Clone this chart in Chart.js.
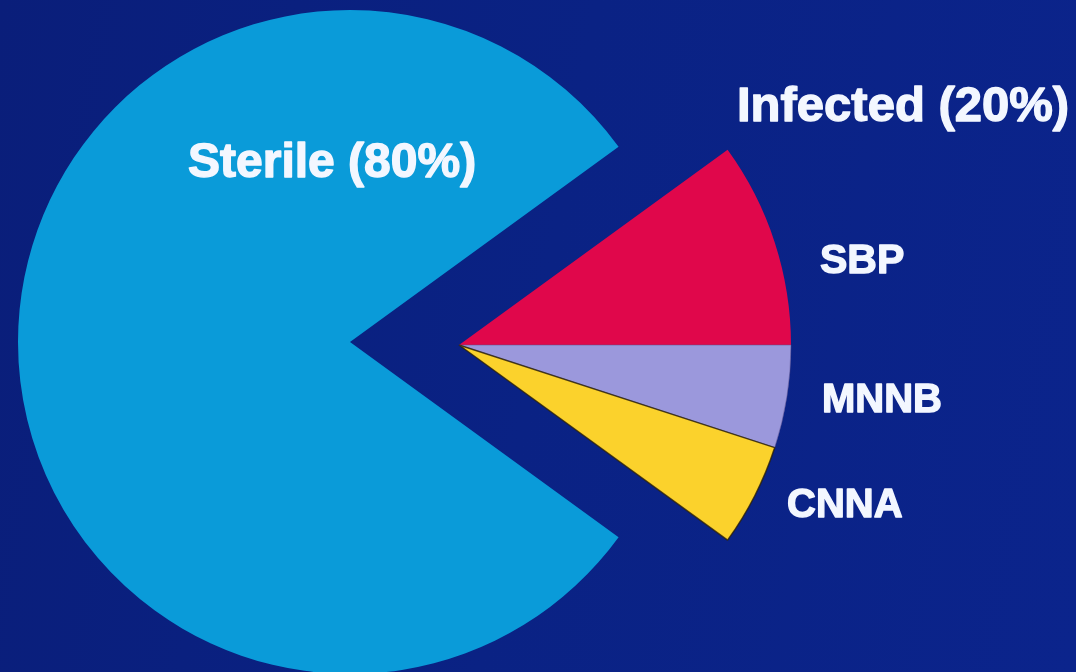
<!DOCTYPE html>
<html>
<head>
<meta charset="utf-8">
<title>Sterile vs infected</title>
<script src="https://cdn.jsdelivr.net/npm/chart.js@4/dist/chart.umd.min.js"></script>
<style>
  html, body { margin: 0; padding: 0; }
  body { width: 1076px; height: 672px; overflow: hidden; }
  #wrap {
    position: relative; width: 1076px; height: 672px;
    background: linear-gradient(100deg, #0a1e7a 0%, #0a2284 50%, #0b248c 100%);
  }
  canvas { display: block; }
</style>
</head>
<body>
<div id="wrap"><canvas id="pie"></canvas></div>
<script>
// Slices, in drawing order (clockwise from the top edge of the infected wedge)
const categories = ['SBP', 'MNNB', 'CNNA', 'Sterile'];
const shares     = [10, 5, 5, 80];
const groups     = ['Infected', 'Infected', 'Infected', 'Sterile'];
const sliceColors = ['#e0074b', '#9b98dc', '#fbd22c', '#0a9bd9'];

const infectedTotal = shares.reduce((s, v, i) => s + (groups[i] === 'Infected' ? v : 0), 0);
const sterileTotal  = shares.reduce((s, v, i) => s + (groups[i] === 'Sterile' ? v : 0), 0);

// Centre the infected wedge on the horizontal axis, pointing right
const rotationDeg = 90 - (infectedTotal / 100) * 360 / 2;

// Pull the infected wedge out to the right
const explode = { dx: 109, dy: 3 };

const textPlacement = {
  Sterile:  { x: 188, y: 177, size: 48 },
  Infected: { x: 737, y: 121, size: 49 },
  SBP:      { x: 820, y: 273, size: 41 },
  MNNB:     { x: 822, y: 412, size: 40 },
  CNNA:     { x: 787, y: 517, size: 40 }
};

const explodePlugin = {
  id: 'explodeInfected',
  afterDatasetsUpdate(chart) {
    const meta = chart.getDatasetMeta(0);
    meta.data.forEach((arc, i) => {
      if (groups[i] === 'Infected') {
        arc.x += explode.dx;
        arc.y += explode.dy;
      }
    });
  }
};

const labelPlugin = {
  id: 'sliceLabels',
  afterDraw(chart) {
    const ctx = chart.ctx;
    const texts = [
      ['Sterile', 'Sterile (' + sterileTotal + '%)'],
      ['Infected', 'Infected (' + infectedTotal + '%)'],
      ...categories.filter((c, i) => groups[i] === 'Infected').map(c => [c, c])
    ];
    ctx.save();
    ctx.fillStyle = '#f3f7ff';
    ctx.strokeStyle = '#f3f7ff';
    ctx.lineWidth = 1.4;
    ctx.lineJoin = 'round';
    ctx.textAlign = 'left';
    ctx.textBaseline = 'alphabetic';
    texts.forEach(([key, str]) => {
      const p = textPlacement[key];
      ctx.font = 'bold ' + p.size + 'px "Liberation Sans", Arial, sans-serif';
      ctx.fillText(str, p.x, p.y);
      ctx.strokeText(str, p.x, p.y);
    });
    ctx.restore();
  }
};

new Chart(document.getElementById('pie'), {
  type: 'pie',
  data: {
    labels: categories,
    datasets: [{
      data: shares,
      backgroundColor: sliceColors,
      borderColor: ['#e0074b', 'rgba(90,80,140,0.5)', 'rgba(40,30,10,0.8)', '#0a9bd9'],
      borderWidth: [0, 1, 1.5, 0],
      radius: 332,
      clip: false
    }]
  },
  options: {
    responsive: true,
    maintainAspectRatio: false,
    animation: false,
    rotation: rotationDeg,
    layout: { padding: { left: 0, right: 376, top: 12, bottom: 0 } },
    events: [],
    plugins: {
      legend: { display: false },
      tooltip: { enabled: false },
      title: { display: false }
    }
  },
  plugins: [explodePlugin, labelPlugin]
});
</script>
</body>
</html>
